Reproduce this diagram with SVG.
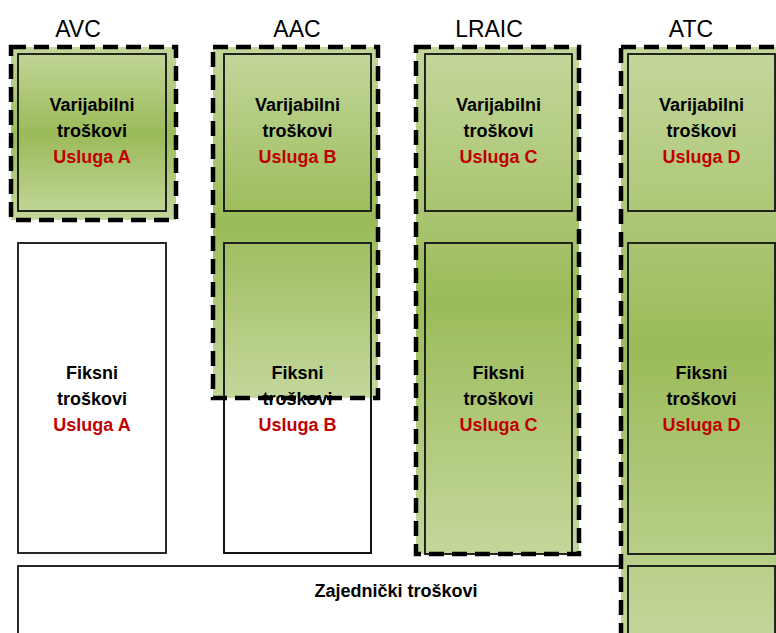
<svg xmlns="http://www.w3.org/2000/svg" width="776" height="633" viewBox="0 0 776 633">
  <defs>
    <linearGradient id="greenFade" x1="0" y1="0" x2="0" y2="1">
      <stop offset="0" stop-color="#c4d79c"/>
      <stop offset="0.5" stop-color="#9bbb59"/>
      <stop offset="1" stop-color="#c4d79c"/>
    </linearGradient>
  </defs>
  <style>
    .hdr { font-family: "Liberation Sans", Arial, sans-serif; font-size: 23px; fill: #000; text-anchor: middle; }
    .lbl { font-family: "Liberation Sans", Arial, sans-serif; font-size: 18px; font-weight: bold; fill: #000; text-anchor: middle; }
    .svc { fill: #c00000; }
    .col { fill: url(#greenFade); }
    .box { fill: none; stroke: #111; stroke-width: 1.8; }
    .plain { fill: #fff; stroke: #111; stroke-width: 1.8; }
    .scope { fill: none; stroke: #000; stroke-width: 4.5; stroke-dasharray: 15 8; }
  </style>
  <rect width="776" height="633" fill="#fff"/>

  <!-- cost headers -->
  <g id="headers">
    <text class="hdr" x="78" y="37">AVC</text>
    <text class="hdr" x="297" y="37">AAC</text>
    <text class="hdr" x="489" y="37">LRAIC</text>
    <text class="hdr" x="691" y="37">ATC</text>
  </g>

  <!-- plain (uncovered) cost blocks -->
  <g id="fixed-a">
    <rect class="plain" x="18" y="243" width="148" height="310"/>
    <text class="lbl" x="92" y="379">Fiksni</text>
    <text class="lbl" x="92" y="405">troškovi</text>
    <text class="lbl svc" x="92" y="431">Usluga A</text>
  </g>
  <g id="common">
    <rect class="plain" x="18" y="566" width="640" height="90"/>
    <text class="lbl" x="396" y="597">Zajednički troškovi</text>
  </g>
  <g id="fixed-b-box">
    <rect class="plain" x="224" y="243" width="147" height="310"/>
  </g>

  <!-- AVC scope -->
  <g id="avc">
    <rect class="col" x="11" y="47" width="165" height="173"/>
    <rect class="box" x="18" y="54" width="148" height="157"/>
    <text class="lbl" x="92" y="111">Varijabilni</text>
    <text class="lbl" x="92" y="137">troškovi</text>
    <text class="lbl svc" x="92" y="163">Usluga A</text>
    <rect class="scope" x="11" y="47" width="165" height="173"/>
  </g>

  <!-- AAC scope -->
  <g id="aac">
    <rect class="col" x="213" y="47" width="165" height="351"/>
    <rect class="box" x="224" y="54" width="147" height="157"/>
    <rect class="box" x="224" y="243" width="147" height="310"/>
    <text class="lbl" x="297.5" y="111">Varijabilni</text>
    <text class="lbl" x="297.5" y="137">troškovi</text>
    <text class="lbl svc" x="297.5" y="163">Usluga B</text>
    <text class="lbl" x="297.5" y="379">Fiksni</text>
    <text class="lbl" x="297.5" y="405">troškovi</text>
    <text class="lbl svc" x="297.5" y="431">Usluga B</text>
    <rect class="scope" x="213" y="47" width="165" height="351"/>
  </g>

  <!-- LRAIC scope -->
  <g id="lraic">
    <rect class="col" x="416" y="47" width="163" height="507"/>
    <rect class="box" x="425" y="54" width="147" height="157"/>
    <rect class="box" x="425" y="243" width="147" height="311"/>
    <text class="lbl" x="498.5" y="111">Varijabilni</text>
    <text class="lbl" x="498.5" y="137">troškovi</text>
    <text class="lbl svc" x="498.5" y="163">Usluga C</text>
    <text class="lbl" x="498.5" y="379">Fiksni</text>
    <text class="lbl" x="498.5" y="405">troškovi</text>
    <text class="lbl svc" x="498.5" y="431">Usluga C</text>
    <rect class="scope" x="416" y="47" width="163" height="507"/>
  </g>

  <!-- ATC scope -->
  <g id="atc">
    <rect class="col" x="621" y="47" width="160" height="600"/>
    <rect class="box" x="628" y="54" width="147" height="157"/>
    <rect class="box" x="628" y="243" width="147" height="311"/>
    <rect class="box" x="628" y="566" width="147" height="90"/>
    <text class="lbl" x="701.5" y="111">Varijabilni</text>
    <text class="lbl" x="701.5" y="137">troškovi</text>
    <text class="lbl svc" x="701.5" y="163">Usluga D</text>
    <text class="lbl" x="701.5" y="379">Fiksni</text>
    <text class="lbl" x="701.5" y="405">troškovi</text>
    <text class="lbl svc" x="701.5" y="431">Usluga D</text>
    <rect class="scope" x="621" y="47" width="170" height="620"/>
  </g>
</svg>
